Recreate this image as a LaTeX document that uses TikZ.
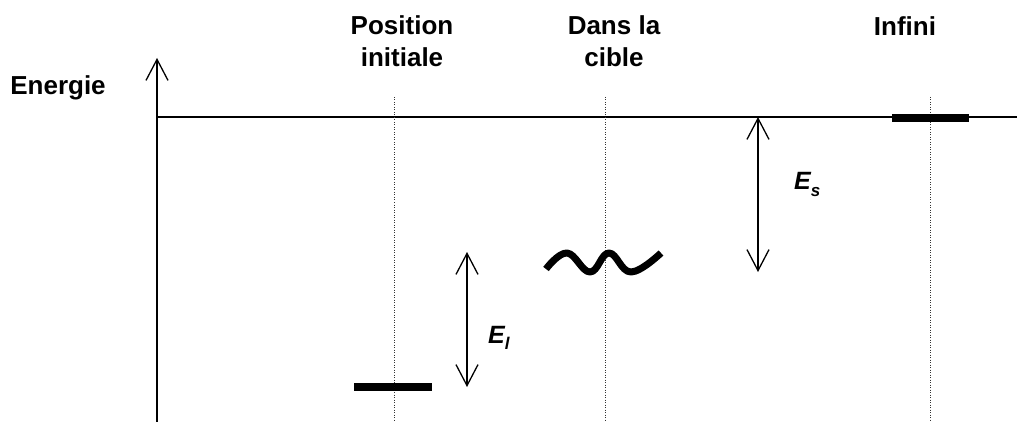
\documentclass[tikz,border=0pt]{standalone}
\usepackage{fontspec}
\setmainfont{Liberation Sans}
\usetikzlibrary{arrows.meta}
\newcommand{\mysub}[1]{\raisebox{-6pt}{\fontsize{17}{17}\selectfont #1}}
\begin{document}
\begin{tikzpicture}[x=1pt,y=-1pt,
  lbl/.style={font=\fontsize{26}{32}\selectfont\bfseries, align=center, inner sep=0pt, anchor=base},
  elbl/.style={font=\fontsize{25}{25}\selectfont\bfseries\itshape, inner sep=0pt, anchor=base west},
  guide/.style={line width=1pt, dash pattern=on 1pt off 1.5pt, black!80},
  level/.style={line width=8pt},
  thin/.style={line width=1.3pt},
  dbl/.style={line width=1.3pt, {Straight Barb[length=21pt,width=22pt]}-{Straight Barb[length=21pt,width=22pt]}}
  ]
\useasboundingbox (0,0) rectangle (1017,422);
% axes
\coordinate (ab) at (157,422);
\coordinate (at) at (157,58);
\coordinate (hl) at (157,117);
\coordinate (hr) at (1017,117);
\draw[thin, -{Straight Barb[length=21pt,width=22pt]}] (ab) -- (at);
\draw[thin] (hl) -- (hr);
% guides
\foreach \n/\x in {gi/394, gc/605, gf/930}{
  \coordinate (\n t) at (\x,97);
  \coordinate (\n b) at (\x,422);
  \draw[guide] (\n t) -- (\n b);
}
% labels
\node[lbl] (energie) at (58,95) {Energie};
\node[lbl] (pos) at (402,67) {Position\\initiale};
\node[lbl] (dans) at (614,67) {Dans la\\cible};
\node[lbl] (inf) at (905,36) {Infini};
% levels
\coordinate (il) at (354,387);
\coordinate (ir) at (432,387);
\draw[level] (il) -- (ir);
\coordinate (fl) at (892,118);
\coordinate (fr) at (969,118);
\draw[level] (fl) -- (fr);
% wave
\draw[line width=7pt, line join=round] plot[smooth, tension=0.7] coordinates {(546,269) (567,253) (590,272) (609,253) (631,272) (661,253)};
% energy arrows
\coordinate (elt) at (467,252);
\coordinate (elb) at (467,387);
\draw[dbl] (elb) -- (elt);
\node[elbl] (el) at (488,343) {E\mysub{l}};
\coordinate (est) at (758,117);
\coordinate (esb) at (758,272);
\draw[dbl] (esb) -- (est);
\node[elbl] (es) at (794,190) {E\mysub{s}};
\end{tikzpicture}
\end{document}
